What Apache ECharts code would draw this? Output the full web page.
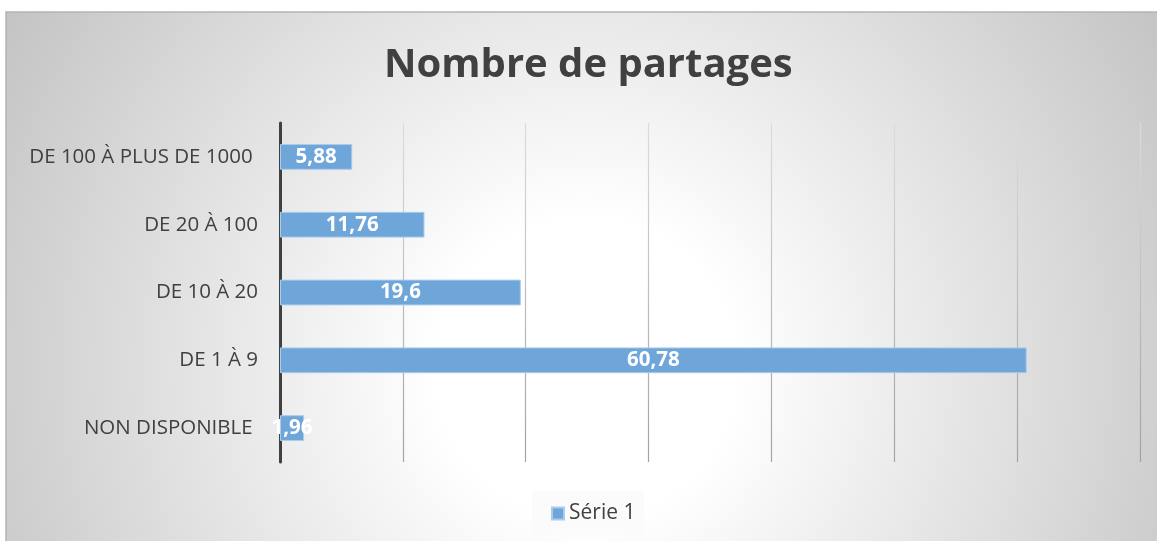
<!DOCTYPE html>
<html>
<head>
<meta charset="utf-8">
<style>
html,body{margin:0;padding:0;background:#fff;}
#c{width:1157px;height:541px;}
</style>
<script src="https://cdn.jsdelivr.net/npm/echarts@6/dist/echarts.min.js"></script>
</head>
<body>
<div id="c"></div>
<script>
const categories = ['NON DISPONIBLE ', 'DE 1 À 9', 'DE 10 À 20', 'DE 20 À 100', 'DE 100 À PLUS DE 1000 '];
const values = [1.96, 60.78, 19.6, 11.76, 5.88];
const seriesName = 'Série 1';
const titleText = 'Nombre de partages';

const chart = echarts.init(document.getElementById('c'));
const font = '"Open Sans", "Noto Sans", sans-serif';
chart.setOption({
  animation: false,
  graphic: [{
    type: 'rect', z: -10, silent: true,
    shape: {x: 6, y: 12, width: 1160, height: 540},
    style: {
      fill: new echarts.graphic.RadialGradient(0.5, 0.66, 1.25, [
        {offset: 0, color: '#ffffff'},
        {offset: 0.22, color: '#ffffff'},
        {offset: 1, color: '#c4c4c4'}
      ]),
      stroke: '#b4b4b4', lineWidth: 1.5
    }
  }, {
    type: 'rect', z: -5, silent: true,
    shape: {x: 532, y: 491, width: 112, height: 44},
    style: {fill: 'rgba(250,250,250,0.85)'}
  }],
  title: {
    text: titleText, left: 379, top: 41,
    textStyle: {fontFamily: font, fontSize: 40, fontWeight: 'bold', color: '#404040'}
  },
  legend: {
    bottom: 12, left: 546, itemWidth: 12, itemHeight: 12, itemGap: 6,
    icon: 'rect',
    textStyle: {fontFamily: font, fontSize: 21, color: '#404040'},
    data: [seriesName]
  },
  grid: {left: 280, right: 17, top: 123, bottom: 79, containLabel: false},
  xAxis: {
    type: 'value', min: 0, max: 70, interval: 10,
    axisLabel: {show: false}, axisLine: {show: false}, axisTick: {show: false},
    splitLine: {show: true, lineStyle: {width: 1.2,
      color: new echarts.graphic.LinearGradient(0, 123, 0, 462, [
        {offset: 0, color: '#dcdcdc'}, {offset: 1, color: '#a2a2a2'}], true)}}
  },
  yAxis: {
    type: 'category', data: categories,
    axisLine: {show: true, lineStyle: {color: '#404040', width: 3}},
    axisTick: {show: false},
    axisLabel: {fontFamily: font, fontSize: 20.5, color: '#404040', margin: 22}
  },
  series: [{
    name: seriesName, type: 'bar', data: values, barWidth: '38%',
    itemStyle: {color: '#6fa6da', borderColor: '#a9cbec', borderWidth: 1},
    label: {
      show: true, position: 'inside', color: '#fff', fontFamily: font,
      fontSize: 20.5, fontWeight: 'bold',
      formatter: p => String(p.value).replace('.', ',')
    }
  }]
});
</script>
</body>
</html>
